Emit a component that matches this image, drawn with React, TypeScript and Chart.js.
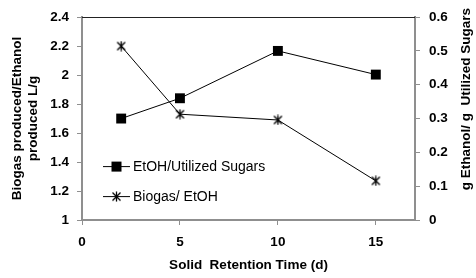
import React, { useEffect, useRef } from "react";
import { Chart, registerables } from "chart.js";

Chart.register(...registerables);

const srtDays = [2, 5, 10, 15];
const etohPerSugar = [0.3, 0.36, 0.5, 0.43];
const biogasPerEtoh = [2.2, 1.73, 1.69, 1.27];
const xTickValues = [0, 5, 10, 15];
const leftTickValues = [1, 1.2, 1.4, 1.6, 1.8, 2, 2.2, 2.4];
const rightTickValues = [0, 0.1, 0.2, 0.3, 0.4, 0.5, 0.6];
const seriesLabels = ["EtOH/Utilized Sugars", "Biogas/ EtOH"];
const xTitle = "Solid  Retention Time (d)";
const leftTitle = ["Biogas produced/Ethanol", "produced L/g"];
const rightTitle = "g Ethanol/ g  Utilized Sugars";

const FONT = "'Liberation Sans', Arial, sans-serif";
const AXIS_GRAY = "#8f8f8f";

function makeStar(): HTMLCanvasElement {
  const c = document.createElement("canvas");
  c.width = 11;
  c.height = 11;
  const g = c.getContext("2d")!;
  g.strokeStyle = "#000";
  g.lineWidth = 1.3;
  g.beginPath();
  g.moveTo(1.5, 1.5);
  g.lineTo(9.5, 9.5);
  g.moveTo(9.5, 1.5);
  g.lineTo(1.5, 9.5);
  g.moveTo(5.5, 0.5);
  g.lineTo(5.5, 10.5);
  g.stroke();
  return c;
}

const fmt = (v: number) => String(Number(Number(v).toFixed(2)));

export default function App() {
  const ref = useRef<HTMLCanvasElement | null>(null);

  useEffect(() => {
    document.body.style.margin = "0";
    const star = makeStar();

    const decor = {
      id: "decor",
      afterDraw(chart: any) {
        const { ctx, chartArea } = chart;
        ctx.save();
        ctx.strokeStyle = "#222";
        ctx.lineWidth = 1;
        ctx.beginPath();
        ctx.moveTo(chartArea.left, Math.round(chartArea.top) + 0.5);
        ctx.lineTo(chartArea.right, Math.round(chartArea.top) + 0.5);
        ctx.stroke();

        const lx0 = chartArea.left + 21;
        const lx1 = chartArea.left + 48;
        const mid = (lx0 + lx1) / 2;
        const rows = [chartArea.top + 149.5, chartArea.top + 179.5];
        ctx.font = `14px ${FONT}`;
        ctx.textBaseline = "middle";
        ctx.textAlign = "left";
        rows.forEach((y, i) => {
          ctx.strokeStyle = "#000";
          ctx.lineWidth = 1;
          ctx.beginPath();
          ctx.moveTo(lx0, y);
          ctx.lineTo(lx1, y);
          ctx.stroke();
          if (i === 0) {
            ctx.fillStyle = "#000";
            ctx.fillRect(mid - 5, y - 5, 10, 10);
          } else {
            ctx.drawImage(star, mid - 5.5, y - 5.5);
          }
          ctx.fillStyle = "#000";
          ctx.fillText(seriesLabels[i], lx1 + 3, y + 1);
        });

        ctx.translate(466, 99);
        ctx.rotate(-Math.PI / 2);
        ctx.font = `bold 13.5px ${FONT}`;
        ctx.textAlign = "center";
        ctx.textBaseline = "middle";
        ctx.fillText(rightTitle, 0, 0);
        ctx.restore();
      },
    };

    const tickFont = { family: FONT, size: 13.5, weight: "bold" };
    const titleFont = { family: FONT, size: 13.5, weight: "bold" };

    const chart = new Chart(ref.current!, {
      type: "line",
      data: {
        datasets: [
          {
            label: seriesLabels[0],
            data: srtDays.map((x, i) => ({ x, y: etohPerSugar[i] })),
            yAxisID: "y1",
            borderColor: "#000",
            backgroundColor: "#000",
            borderWidth: 1,
            pointStyle: "rect",
            pointRadius: 7,
            pointBorderWidth: 0,
            tension: 0,
          },
          {
            label: seriesLabels[1],
            data: srtDays.map((x, i) => ({ x, y: biogasPerEtoh[i] })),
            yAxisID: "y",
            borderColor: "#000",
            backgroundColor: "#000",
            borderWidth: 1,
            pointStyle: star as any,
            pointRadius: 6,
            tension: 0,
          },
        ],
      },
      options: {
        animation: false,
        responsive: false,
        devicePixelRatio: 1,
        layout: { padding: { top: 15, left: 0, right: 0, bottom: 0 } },
        plugins: { legend: { display: false }, tooltip: { enabled: false } },
        scales: {
          x: {
            type: "linear",
            min: 0,
            max: 17,
            afterBuildTicks: (s: any) => {
              s.ticks = xTickValues.map((v) => ({ value: v }));
            },
            afterFit: (s: any) => {
              s.height = 58;
            },
            ticks: {
              callback: (v: any) => fmt(v),
              font: tickFont,
              color: "#000",
              padding: 9,
              maxRotation: 0,
            },
            grid: { drawOnChartArea: false, tickLength: 5, color: AXIS_GRAY },
            border: { color: AXIS_GRAY, width: 2 },
            title: {
              display: true,
              text: xTitle,
              font: titleFont,
              color: "#000",
              padding: { top: 0, bottom: 5 },
            },
          },
          y: {
            type: "linear",
            position: "left",
            min: 1,
            max: 2.4,
            afterBuildTicks: (s: any) => {
              s.ticks = leftTickValues.map((v) => ({ value: v }));
            },
            afterFit: (s: any) => {
              s.width = 82;
            },
            ticks: {
              callback: (v: any) => fmt(v),
              font: tickFont,
              color: "#000",
              padding: 8,
            },
            grid: { drawOnChartArea: false, tickLength: 5, color: AXIS_GRAY },
            border: { color: AXIS_GRAY, width: 2 },
            title: {
              display: true,
              text: leftTitle,
              font: titleFont,
              color: "#000",
              padding: { top: 9, bottom: 0 },
            },
          },
          y1: {
            type: "linear",
            position: "right",
            min: 0,
            max: 0.6,
            afterBuildTicks: (s: any) => {
              s.ticks = rightTickValues.map((v) => ({ value: v }));
            },
            afterFit: (s: any) => {
              s.width = 61;
            },
            ticks: {
              callback: (v: any) => fmt(v),
              font: tickFont,
              color: "#000",
              padding: 9,
            },
            grid: { drawOnChartArea: false, tickLength: 5, color: AXIS_GRAY },
            border: { color: AXIS_GRAY, width: 2 },
          },
        },
      },
      plugins: [decor],
    } as any);

    return () => chart.destroy();
  }, []);

  return (
    <div style={{ position: "fixed", left: 0, top: 0, width: 476, height: 278 }}>
      <canvas ref={ref} width={476} height={278} />
    </div>
  );
}
